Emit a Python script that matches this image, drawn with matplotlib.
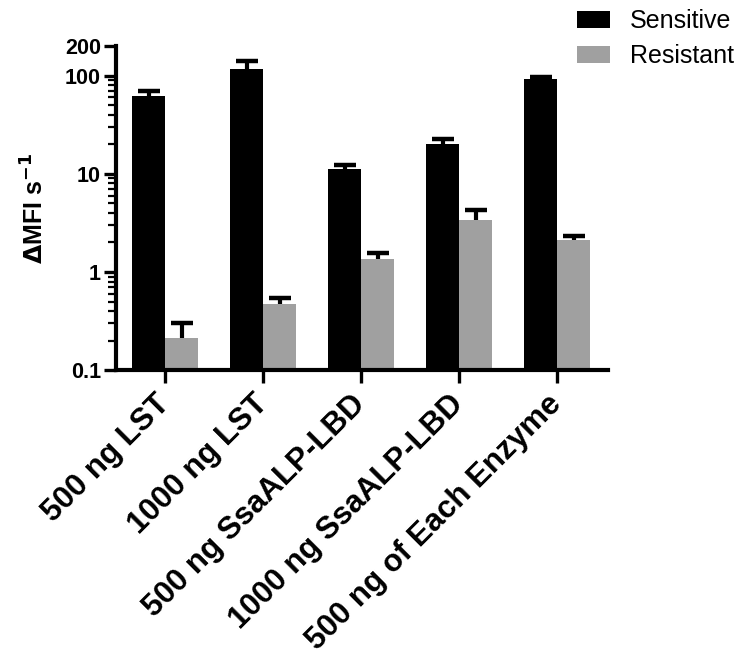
import numpy as np
import matplotlib
matplotlib.use("Agg")
import matplotlib.pyplot as plt
from matplotlib.ticker import FixedLocator, LogLocator, NullFormatter

plt.rcParams['font.family'] = ['Liberation Sans', 'DejaVu Sans']

# data
groups = ["500 ng LST", "1000 ng LST", "500 ng SsaALP-LBD",
          "1000 ng SsaALP-LBD", "500 ng of Each Enzyme"]
sensitive = [61.5, 117, 11.3, 20.0, 92]
sensitive_err = [8.3, 22, 1.1, 2.7, 5]
resistant = [0.215, 0.477, 1.37, 3.36, 2.1]
resistant_err = [0.09, 0.073, 0.2, 0.95, 0.21]
yticks = [0.1, 1, 10, 100, 200]
ytick_labels = ["0.1", "1", "10", "100", "200"]

fig = plt.figure(figsize=(7.5, 6.66), dpi=100)
ax = fig.add_axes([0.155, 0.444, 0.656, 0.487])

x = np.arange(len(groups))
w = 0.336
ax.bar(x - w/2, sensitive, w, color='black', label='Sensitive')
ax.bar(x + w/2, resistant, w, color='#a0a0a0', label='Resistant')

# upper-only error bars
for xs, vals, errs in [(x - w/2, sensitive, sensitive_err), (x + w/2, resistant, resistant_err)]:
    tops = np.array(vals) + np.array(errs)
    ax.vlines(xs, vals, tops, color='black', lw=3, zorder=3)
    ax.plot(xs, tops, ls='none', marker='_', ms=16, mew=3.2, color='black', zorder=3)

ax.set_yscale('log')
ax.set_ylim(0.1, 200)
ax.set_xlim(-0.5, 4.52)
ax.yaxis.set_major_locator(FixedLocator(yticks))
ax.set_yticklabels(ytick_labels, fontsize=15.5, fontweight='bold')
ax.yaxis.set_minor_locator(LogLocator(base=10, subs=np.arange(2, 10)))
ax.yaxis.set_minor_formatter(NullFormatter())
ax.set_xticks(x)
ax.set_xticklabels(groups, rotation=45, ha='right', va='center', rotation_mode='anchor',
                   fontsize=22.5, fontweight='bold')

for s in ['top', 'right']:
    ax.spines[s].set_visible(False)
for s in ['left', 'bottom']:
    ax.spines[s].set_linewidth(3)
ax.tick_params(axis='both', which='major', length=9, width=2.4, direction='out', pad=2)
ax.tick_params(axis='x', which='major', pad=12)
ax.tick_params(axis='y', which='minor', length=6, width=1.6, direction='out')

ax.set_ylabel(r'$\mathbf{\Delta}$MFI s$^{\mathbf{-1}}$', fontsize=18, fontweight='bold', labelpad=12)

fig.legend(loc='upper left', bbox_to_anchor=(577/750, 1 - 9/666), frameon=False,
           fontsize=18, handlelength=1.3, handleheight=0.7, handletextpad=0.8,
           labelspacing=0.45, borderpad=0, borderaxespad=0)

fig.savefig("out.png", dpi=100)
